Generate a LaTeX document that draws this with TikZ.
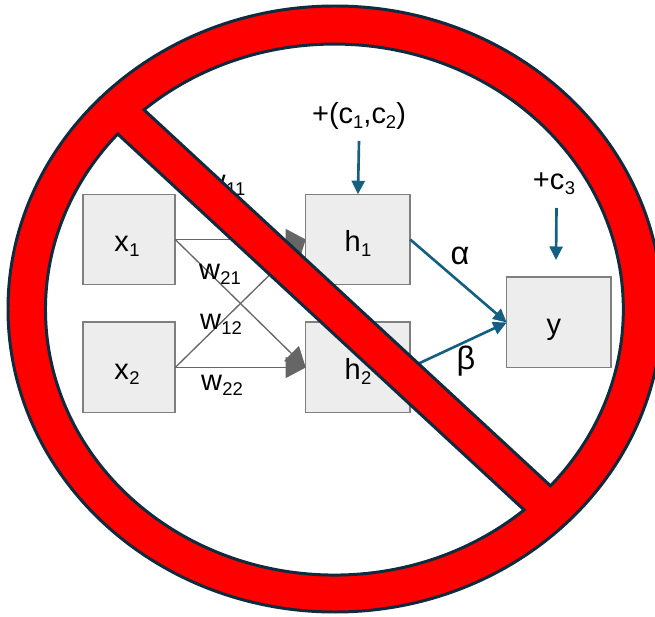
\documentclass[tikz,border=0pt]{standalone}
\usepackage{fontspec}
\setmainfont{Liberation Sans}
\usepackage{xcolor}
\usetikzlibrary{arrows.meta,positioning}
\definecolor{boxfill}{HTML}{EDEDED}
\definecolor{boxline}{HTML}{7F7F7F}
\definecolor{crossgray}{HTML}{666666}
\definecolor{flowblue}{HTML}{156082}
\definecolor{signline}{HTML}{0F2B3E}
\newcommand{\subtxt}[1]{\raisebox{-0.32ex}{\fontsize{10.5}{12}\selectfont #1}}
\newcommand{\lbl}[2]{\fontsize{16.5}{20}\selectfont #1\kern0.3pt\subtxt{#2}}
\tikzset{
  boxnode/.style={draw=boxline, fill=boxfill, line width=0.85pt, inner sep=0pt, outer sep=0pt, minimum height=1.81cm, text height=0.5cm, text depth=0pt},
  crossarrow/.style={-{Triangle[length=0.4cm,width=0.42cm]}, draw=crossgray, fill=crossgray, line width=0.75pt},
  flowarrow/.style={-{Triangle[length=0.27cm,width=0.26cm]}, draw=flowblue, fill=flowblue, line width=1.5pt},
  signshape/.style={draw=signline, fill=red, line width=1.7pt, even odd rule, line join=miter}
}
\begin{document}
\begin{tikzpicture}[x=0.02cm,y=0.02cm]
\useasboundingbox (0,0) rectangle (655,616);
\clip (0,0) rectangle (655,616);
\node (x1) [boxnode, minimum width=1.85cm] at (129,376.5) {\lbl{x}{1}\hspace*{0.08cm}};
\node (x2) [boxnode, minimum width=1.85cm, below=0.75cm of x1] {\lbl{x}{2}\hspace*{0.08cm}};
\node (h1) [boxnode, minimum width=2.09cm, right=2.61cm of x1] {\lbl{h}{1}};
\node (h2) [boxnode, minimum width=2.09cm, below=0.75cm of h1] {\lbl{h}{2}};
\node (y) [boxnode, minimum width=2.09cm, right=1.93cm of h1, yshift=-1.66cm] {\fontsize{16.5}{20}\selectfont y\hspace*{0.2cm}};
\coordinate (c12top) at (359,475);
\coordinate (c3top) at (556.5,408);
\coordinate (c3tip) at (556,356);
\node (c12) at (359,500) {\fontsize{16.5}{20}\selectfont +(c\subtxt{1},c\subtxt{2})};
\node (c3) at (554,432) {\lbl{+c}{3}};
\draw[crossarrow] (x1.east) -- (h1.west);
\draw[crossarrow] (x1.east) -- (h2.west);
\draw[crossarrow] (x2.east) -- (h1.west);
\draw[crossarrow] (x2.east) -- (h2.west);
\node (w11) at (225,431) {\lbl{w}{11}};
\node (w21) at (220,342) {\lbl{w}{21}};
\node (w12) at (221,292) {\lbl{w}{12}};
\node (w22) at (222,231) {\lbl{w}{22}};
\draw[flowarrow] (h1.east) -- (y.west);
\draw[flowarrow] (h2.east) -- (y.west);
\draw[flowarrow] (c12top) -- (h1.north);
\draw[flowarrow] (c3top) -- (c3tip);
\node (alpha) at (460,360) {\fontsize{18.5}{22}\selectfont α};
\node (beta) at (466,255) {\fontsize{18.5}{22}\selectfont β};
% sign on top of the network
\path[signshape] (335,307) ellipse [x radius=327, y radius=303]
  (144,506.2) arc [start angle=131.2, end angle=-41.6, x radius=289, y radius=265.5] -- cycle
  (117.7,482) arc [start angle=138.6, end angle=311, x radius=289, y radius=265.5] -- cycle;
\end{tikzpicture}
\end{document}
